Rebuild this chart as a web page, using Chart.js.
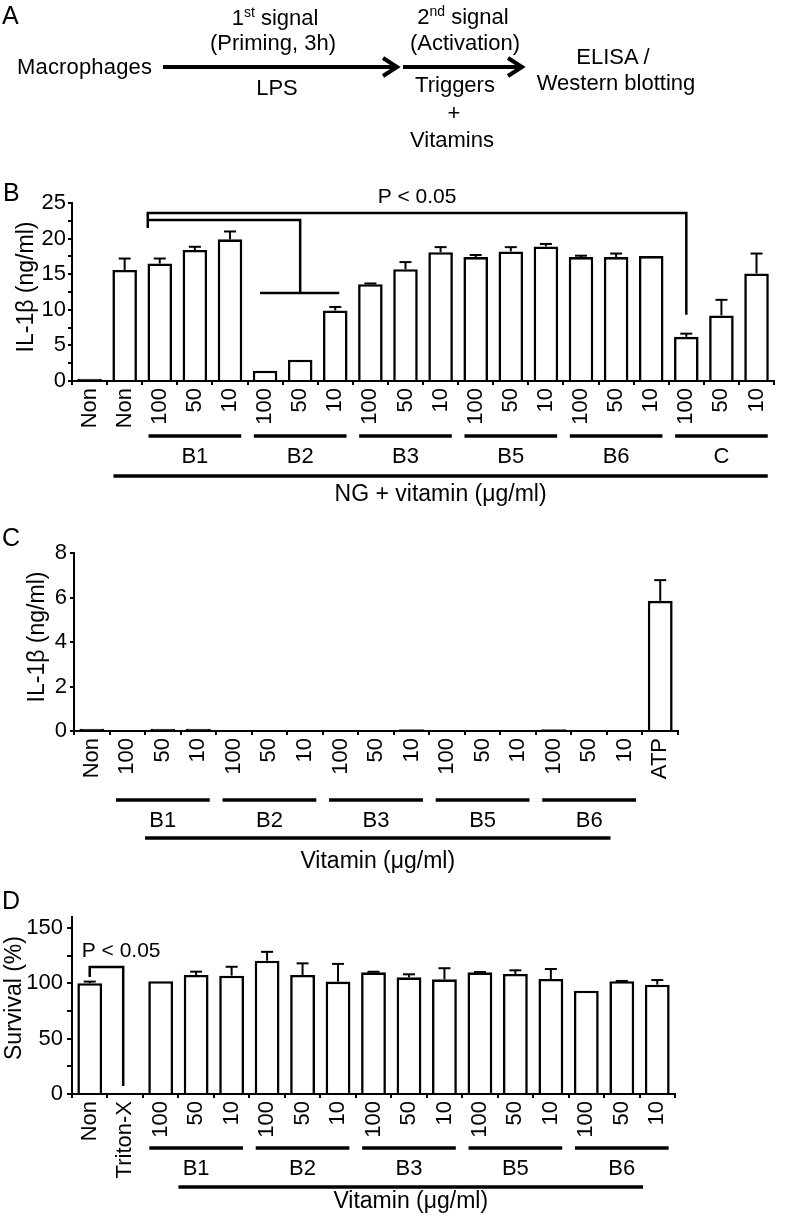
<!DOCTYPE html>
<html>
<head>
<meta charset="utf-8">
<script src="https://cdn.jsdelivr.net/npm/chart.js@4.4.0/dist/chart.umd.min.js"></script>
<style>
  body { margin: 0; background: #fff; }
  #fig { position: relative; width: 786px; height: 1224px; background: #fff; }
  .panel { position: absolute; left: 0; width: 786px; }
  #overlay { position: absolute; left: 0; top: 0; pointer-events: none; }
  #overlay text { font-family: "Liberation Sans", Arial, sans-serif; fill: #000; }
</style>
</head>
<body>
<div id="fig">
  <div class="panel" style="top:160px;height:355px"><canvas id="chartB"></canvas></div>
  <div class="panel" style="top:515px;height:365px"><canvas id="chartC"></canvas></div>
  <div class="panel" style="top:880px;height:344px"><canvas id="chartD"></canvas></div>

  <svg id="overlay" width="786" height="1224">
    <!-- panel A : schema -->
    <g font-size="22">
      <text x="17" y="74" textLength="135">Macrophages</text>
      <text x="275" y="25" text-anchor="middle">1<tspan font-size="14" dy="-8">st</tspan><tspan dy="8"> signal</tspan></text>
      <text x="273" y="50" text-anchor="middle">(Priming, 3h)</text>
      <text x="277" y="95" text-anchor="middle">LPS</text>
      <text x="463" y="24" text-anchor="middle">2<tspan font-size="14" dy="-8">nd</tspan><tspan dy="8"> signal</tspan></text>
      <text x="465" y="50" text-anchor="middle">(Activation)</text>
      <text x="455" y="92" text-anchor="middle">Triggers</text>
      <text x="454" y="120" text-anchor="middle">+</text>
      <text x="452" y="147" text-anchor="middle">Vitamins</text>
      <text x="613" y="64" text-anchor="middle">ELISA /</text>
      <text x="616" y="90" text-anchor="middle">Western blotting</text>
    </g>
    <g stroke="#000" stroke-width="4" fill="none">
      <line x1="163" y1="67" x2="395" y2="67"/>
      <polyline points="383,58 397,67 383,76"/>
      <line x1="403" y1="67" x2="520" y2="67"/>
      <polyline points="508,58 522,67 508,76"/>
    </g>
    <!-- panel letters -->
    <g font-size="25">
      <text x="2" y="24">A</text>
      <text x="3" y="201">B</text>
      <text x="2" y="546">C</text>
      <text x="2" y="909">D</text>
    </g>
  </svg>
</div>

<script>
// ---- Panel B : IL-1β (ng/ml), NG + vitamin (µg/ml)
const labelsB = ["Non", "Non", "100", "50", "10", "100", "50", "10", "100", "50", "10",
                 "100", "50", "10", "100", "50", "10", "100", "50", "10"];
const valuesB = [0.3, 15.6, 16.5, 18.4, 19.9, 1.45, 3.0, 9.9, 13.6, 15.7, 18.1,
                 17.4, 18.2, 18.9, 17.4, 17.4, 17.55, 6.2, 9.2, 15.1];
const errorsB = [0, 1.6, 0.7, 0.45, 1.1, 0, 0, 0.5, 0.1, 1.0, 0.7,
                 0.3, 0.6, 0.35, 0.2, 0.5, 0, 0.45, 2.2, 2.8];
const groupsB = ["B1", "B2", "B3", "B5", "B6", "C"];
const groupStartB = [2, 5, 8, 11, 14, 17];

// ---- Panel C : IL-1β (ng/ml), vitamin only
const labelsC = ["Non", "100", "50", "10", "100", "50", "10", "100", "50", "10",
                 "100", "50", "10", "100", "50", "10", "ATP"];
const valuesC = [0.1, 0, 0.1, 0.1, 0, 0, 0, 0, 0, 0.08, 0, 0, 0, 0.08, 0, 0, 5.85];
const errorsC = [0, 0, 0, 0, 0, 0, 0, 0, 0, 0, 0, 0, 0, 0, 0, 0, 0.93];
const groupsC = ["B1", "B2", "B3", "B5", "B6"];
const groupStartC = [1, 4, 7, 10, 13];

// ---- Panel D : survival (%)
const labelsD = ["Non", "Triton-X", "100", "50", "10", "100", "50", "10", "100", "50", "10",
                 "100", "50", "10", "100", "50", "10"];
const valuesD = [100.1, 0, 101.9, 107.6, 107, 120.5, 107.6, 101.6, 110, 105.5, 103.7,
                 110, 108.5, 104, 93.4, 101.9, 98.8];
const errorsD = [1.5, 0, 0, 3, 8, 8, 10.5, 16, 0.5, 2.7, 10, 0.3, 3.3, 9, 0, 0.3, 4.2];
const groupsD = ["B1", "B2", "B3", "B5", "B6"];
const groupStartD = [2, 5, 8, 11, 14];

const FONT = "'Liberation Sans', Arial, sans-serif";
Chart.defaults.font.family = FONT;
Chart.defaults.color = "#000";

function seg(ctx, x1, y1, x2, y2) {
  ctx.beginPath();
  ctx.moveTo(x1, y1);
  ctx.lineTo(x2, y2);
  ctx.stroke();
}

// draws error caps, group bars, axis title and brackets
function extras(cfg) {
  return {
    id: "extras",
    afterDatasetsDraw(chart) {
      const { ctx, scales: { x, y } } = chart;
      const meta = chart.getDatasetMeta(0);
      const cw = x.width / cfg.labels.length;
      const at = f => x.left + (f + 0.5) * cw;
      ctx.save();
      ctx.strokeStyle = "#000";
      ctx.fillStyle = "#000";
      ctx.lineCap = "butt";

      // error bars (upper half)
      ctx.lineWidth = 2;
      cfg.errors.forEach((e, i) => {
        if (!e) return;
        const bx = meta.data[i].x;
        const top = y.getPixelForValue(cfg.values[i]);
        const end = y.getPixelForValue(cfg.values[i] + e);
        seg(ctx, bx, top, bx, end);
        seg(ctx, bx - 6, end, bx + 6, end);
      });

      // vitamin group lines
      ctx.lineWidth = 3.5;
      ctx.textAlign = "center";
      ctx.textBaseline = "alphabetic";
      ctx.font = "22px " + FONT;
      cfg.groups.forEach((g, k) => {
        const s = cfg.groupStart[k];
        const x1 = at(s - 0.32), x2 = at(s + 2.32);
        seg(ctx, x1, cfg.groupLineY, x2, cfg.groupLineY);
        ctx.fillText(g, (x1 + x2) / 2, cfg.groupLabelY);
      });

      // long line + x title
      const b1 = at(cfg.bigFrom), b2 = at(cfg.bigTo);
      seg(ctx, b1, cfg.bigLineY, b2, cfg.bigLineY);
      ctx.font = "23px " + FONT;
      ctx.fillText(cfg.xTitle, (b1 + b2) / 2, cfg.bigLabelY);

      // y title
      ctx.save();
      ctx.translate(cfg.yTitleX, cfg.yTitleY);
      ctx.rotate(-Math.PI / 2);
      ctx.textBaseline = "middle";
      ctx.fillText(cfg.yTitle, 0, 0);
      ctx.restore();

      if (cfg.brackets) {
        ctx.lineWidth = 2.5;
        ctx.font = "21px " + FONT;
        cfg.brackets(ctx, x, y);
      }
      ctx.restore();
    }
  };
}

function barChart(id, cfg) {
  return new Chart(document.getElementById(id), {
    type: "bar",
    data: {
      labels: cfg.labels,
      datasets: [{
        data: cfg.values,
        backgroundColor: c => (c.raw < 0.5 ? "#000" : "#fff"),
        borderColor: "#000",
        borderWidth: 2.6,
        barPercentage: 0.7,
        categoryPercentage: 1
      }]
    },
    options: {
      responsive: true,
      maintainAspectRatio: false,
      animation: false,
      events: [],
      layout: { padding: { top: cfg.top, right: cfg.right, left: 0, bottom: 0 } },
      plugins: { legend: { display: false }, tooltip: { enabled: false } },
      scales: {
        x: {
          grid: { drawOnChartArea: false, tickLength: 4, color: "#000", lineWidth: 2, offset: true },
          border: { color: "#000", width: 2 },
          ticks: { font: { size: 22 }, minRotation: 90, maxRotation: 90, padding: 3, autoSkip: false },
          afterFit: s => { s.height = cfg.xHeight; }
        },
        y: {
          min: 0,
          max: cfg.max,
          grid: { drawOnChartArea: false, tickLength: cfg.tickLen, color: "#000", lineWidth: 2 },
          border: { color: "#000", width: 2 },
          ticks: {
            stepSize: cfg.step,
            autoSkip: false,
            includeBounds: false,
            padding: cfg.yPad,
            font: { size: 22 },
            callback: v => (v % cfg.labelStep === 0 ? v : "")
          },
          afterFit: s => { s.width = cfg.yWidth; }
        }
      }
    },
    plugins: [extras(cfg)]
  });
}

barChart("chartB", {
  labels: labelsB, values: valuesB, errors: errorsB,
  groups: groupsB, groupStart: groupStartB,
  top: 43, right: 3, yWidth: 72, xHeight: 134,
  max: 25, step: 2.5, labelStep: 5, tickLen: 4, yPad: 2,
  groupLineY: 276, groupLabelY: 303,
  bigFrom: 0.68, bigTo: 19.32, bigLineY: 316, bigLabelY: 341,
  xTitle: "NG + vitamin (\u03bcg/ml)",
  yTitle: "IL-1\u03b2 (ng/ml)", yTitleX: 27, yTitleY: 127,
  brackets(ctx, x, y) {
    const xl = x.getPixelForValue(2) - 12;
    const xr = x.getPixelForValue(17);
    const xm = x.getPixelForValue(6);
    const yo = y.getPixelForValue(23.6), yi = y.getPixelForValue(22.6);
    const yb = y.getPixelForValue(12.35);
    ctx.beginPath();
    ctx.moveTo(xl, y.getPixelForValue(21.5));
    ctx.lineTo(xl, yo);
    ctx.lineTo(xr, yo);
    ctx.lineTo(xr, y.getPixelForValue(9.3));
    ctx.stroke();
    ctx.beginPath();
    ctx.moveTo(xl, yi);
    ctx.lineTo(xm, yi);
    ctx.lineTo(xm, yb);
    ctx.stroke();
    seg(ctx, x.getPixelForValue(5) - 5, yb, x.getPixelForValue(7) + 4, yb);
    ctx.textAlign = "center";
    ctx.fillText("P < 0.05", (xl + xr) / 2, y.getPixelForValue(25));
  }
});

barChart("chartC", {
  labels: labelsC, values: valuesC, errors: errorsC,
  groups: groupsC, groupStart: groupStartC,
  top: 38, right: 108, yWidth: 74, xHeight: 149,
  max: 8, step: 2, labelStep: 2, tickLen: 4, yPad: 3,
  groupLineY: 285, groupLabelY: 312,
  bigFrom: 1.5, bigTo: 14.6, bigLineY: 323, bigLabelY: 353,
  xTitle: "Vitamin (\u03bcg/ml)",
  yTitle: "IL-1\u03b2 (ng/ml)", yTitleX: 38, yTitleY: 122
});

barChart("chartD", {
  labels: labelsD, values: valuesD, errors: errorsD,
  groups: groupsD, groupStart: groupStartD,
  top: 37, right: 111, yWidth: 72, xHeight: 130,
  max: 160, step: 25, labelStep: 50, tickLen: 5, yPad: 4,
  groupLineY: 268, groupLabelY: 295,
  bigFrom: 2.5, bigTo: 15.6, bigLineY: 307, bigLabelY: 328,
  xTitle: "Vitamin (\u03bcg/ml)",
  yTitle: "Survival (%)", yTitleX: 15, yTitleY: 118,
  brackets(ctx, x, y) {
    const x0 = x.getPixelForValue(0), x1 = x.getPixelForValue(1) - 2;
    const yh = y.getPixelForValue(114.8);
    ctx.beginPath();
    ctx.moveTo(x0, y.getPixelForValue(105.8));
    ctx.lineTo(x0, yh);
    ctx.lineTo(x1, yh);
    ctx.lineTo(x1, y.getPixelForValue(7.2));
    ctx.stroke();
    ctx.textAlign = "left";
    ctx.fillText("P < 0.05", x0 - 8, y.getPixelForValue(123.9));
  }
});
</script>
</body>
</html>
